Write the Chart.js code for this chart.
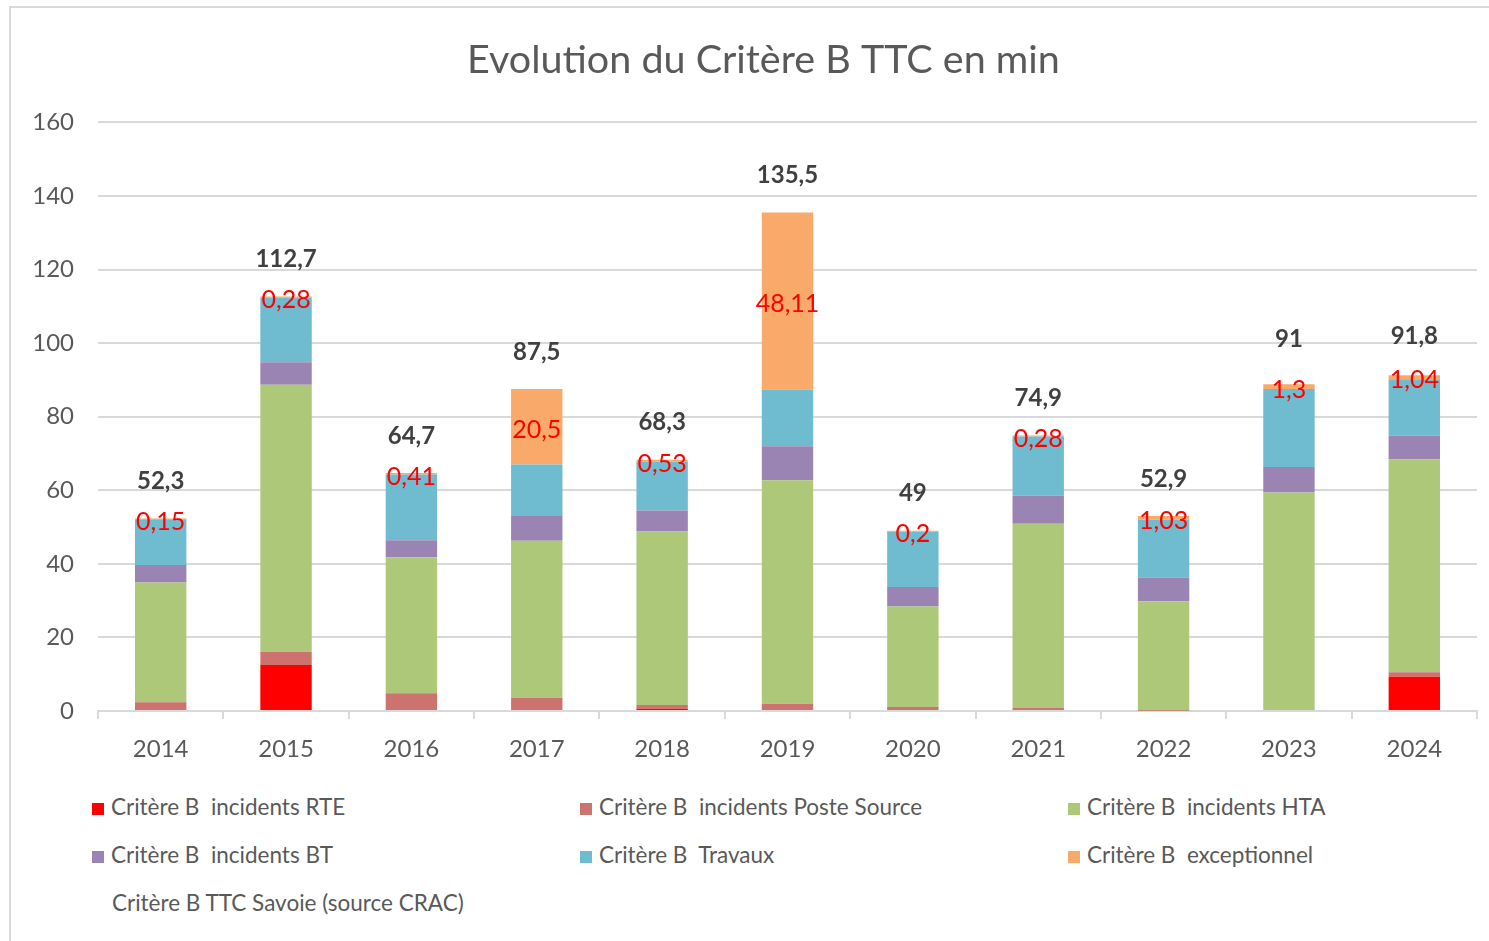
<!DOCTYPE html>
<html>
<head>
<meta charset="utf-8">
<script src="https://cdn.jsdelivr.net/npm/chart.js@4"></script>
<style>
html,body{margin:0;padding:0;background:#fff;width:1489px;height:941px;overflow:hidden;font-family:Lato,"Open Sans",sans-serif;}
#frame{position:absolute;left:9px;top:6px;width:1600px;height:1000px;border-left:2px solid #d9d9d9;border-top:2px solid #d9d9d9;}
#wrap{position:absolute;left:0;top:0;width:1489px;height:775px;}
#legend{position:absolute;left:0;top:0;}
.item{position:absolute;font-size:22.5px;color:#595959;white-space:pre;line-height:24px;}
.box{display:inline-block;width:12px;height:12px;margin-right:7px;vertical-align:0px;}
</style>
</head>
<body>
<div id="frame"></div>
<div id="wrap"><canvas id="chart"></canvas></div>
<div id="legend"></div>
<script>
/*========== Data ==========*/

const years=["2014","2015","2016","2017","2018","2019","2020","2021","2022","2023","2024"];

const rte=[0,12.5,0,0,0.6,0,0,0,0,0,9.3];
const posteSource=[2.4,3.6,4.8,3.6,1.0,2.0,1.1,0.8,0.1,0,1.2];
const hta=[32.5,72.6,37.0,42.7,47.2,60.7,27.3,50.1,29.7,59.4,57.9];
const bt=[4.8,6.1,4.6,6.9,5.7,9.3,5.3,7.6,6.5,6.9,6.4];
const travaux=[12.45,17.6,17.9,13.8,13.3,15.4,15.1,16.1,15.67,21.2,15.4];
const exceptionnel=[0.15,0.28,0.41,20.5,0.53,48.11,0.2,0.28,1.03,1.3,1.04];
const totals=[52.3,112.7,64.7,87.5,68.3,135.5,49,74.9,52.9,91,91.8];

const seriesNames=[
    "Critère B  incidents RTE",
    "Critère B  incidents Poste Source",
    "Critère B  incidents HTA",
    "Critère B  incidents BT",
    "Critère B  Travaux",
    "Critère B  exceptionnel"
];
const totalName="Critère B TTC Savoie (source CRAC)";
const colors=["#ff0000","#cc7370","#adc878","#9a84b3","#6fbbd0","#f9aa6b"];

const $=id=>document.getElementById(id);
const fmt=v=>String(v).replace(".",",");
const FONT="Lato, 'Open Sans', sans-serif";

/*========== Labels plugin ==========*/

const labelPlugin={
    id:"labels",
    afterDatasetsDraw(chart){
        const ctx=chart.ctx;
        ctx.save();
        ctx.textAlign="center";
        ctx.textBaseline="middle";

        const exc=chart.getDatasetMeta(5);
        ctx.font="25px "+FONT;
        ctx.fillStyle="#ff0000";
        exc.data.forEach((bar,i)=>{
            const p=bar.getCenterPoint();
            ctx.fillText(fmt(exceptionnel[i]),p.x,p.y+3);
        });

        const tot=chart.getDatasetMeta(6);
        ctx.font="bold 24px "+FONT;
        ctx.fillStyle="#404040";
        tot.data.forEach((pt,i)=>{
            ctx.fillText(fmt(totals[i]),pt.x,pt.y-37);
        });

        ctx.restore();
    }
};

/*========== Chart ==========*/

const series=[rte,posteSource,hta,bt,travaux,exceptionnel];

const datasets=series.map((d,i)=>({
    type:"bar",
    label:seriesNames[i],
    data:d,
    backgroundColor:colors[i],
    stack:"s",
    barPercentage:0.41,
    categoryPercentage:1
}));

datasets.push({
    type:"line",
    label:totalName,
    data:totals,
    stack:"t",
    showLine:false,
    pointRadius:0,
    borderColor:"transparent",
    backgroundColor:"transparent"
});

new Chart($("chart"),{
    type:"bar",
    data:{labels:years,datasets},
    options:{
        responsive:true,
        maintainAspectRatio:false,
        animation:false,
        layout:{padding:{left:20,right:12,top:0,bottom:0}},
        plugins:{
            legend:{display:false},
            tooltip:{enabled:false},
            title:{
                display:true,
                // leading space nudges the title a little right, as in the original
                text:"\u2002 Evolution du Critère B TTC en min",
                color:"#595959",
                font:{family:FONT,size:39.5,weight:"normal"},
                padding:{top:37,bottom:38}
            }
        },
        scales:{
            x:{
                stacked:true,
                offset:true,
                grid:{offset:true,drawOnChartArea:false,drawTicks:true,tickLength:8,color:"#d9d9d9",lineWidth:2},
                border:{color:"#d9d9d9",width:2},
                ticks:{color:"#595959",font:{family:FONT,size:24},padding:16},
                afterFit(s){s.height=64;}
            },
            y:{
                stacked:true,
                min:0,
                max:160,
                ticks:{stepSize:20,color:"#595959",font:{family:FONT,size:24},padding:24},
                grid:{color:"#d9d9d9",lineWidth:2,drawTicks:false},
                border:{display:false},
                afterFit(s){s.width=78;}
            }
        }
    },
    plugins:[labelPlugin]
});

/*========== Legend ==========*/

const cols=[92,580,1068];
const rows=[807,855];
$("legend").innerHTML=seriesNames.map((n,i)=>`<div class="item" style="left:${cols[i%3]}px;top:${rows[Math.floor(i/3)]-12}px"><span class="box" style="background:${colors[i]}"></span>${n}</div>`).join("")
    +`<div class="item" style="left:112px;top:${903-12}px">${totalName}</div>`;
</script>
</body>
</html>
